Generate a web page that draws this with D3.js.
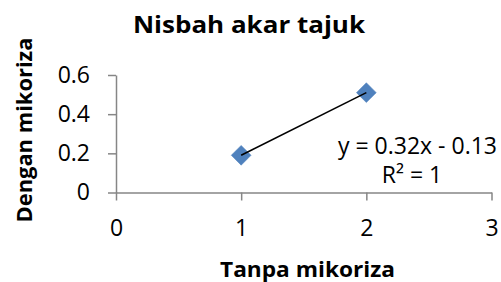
<!DOCTYPE html>
<html><head><meta charset="utf-8">
<script src="https://cdn.jsdelivr.net/npm/d3@7"></script>
<style>html,body{margin:0;padding:0;background:#fff;}svg{display:block;}</style>
</head><body>
<svg id="c" width="501" height="282"></svg>
<script>
const xValues = [1, 2];
const yValues = [0.19, 0.51];
const xTicks = [0, 1, 2, 3];
const yTicks = [0, 0.2, 0.4, 0.6];
const trendSlope = 0.32;
const trendIntercept = -0.13;
const titleText = "Nisbah akar tajuk";
const xTitle = "Tanpa mikoriza";
const yTitle = "Dengan mikoriza";
const eqText = "y = 0.32x - 0.13";
const r2Text = "R² = 1";

const font = "'Open Sans', 'Liberation Sans', sans-serif";
const svg = d3.select("#c");
const x = d3.scaleLinear().domain([0, 3]).range([116, 491.5]);
const y = d3.scaleLinear().domain([0, 0.6]).range([192.5, 75]);
const axisColor = "#868686";

const gx = svg.append("g").attr("transform", `translate(0,${y(0)})`)
  .call(d3.axisBottom(x).tickValues(xTicks).tickFormat(d3.format("d")).tickSize(8).tickSizeOuter(0).tickPadding(19));
const gy = svg.append("g").attr("transform", `translate(${x(0)},0)`)
  .call(d3.axisLeft(y).tickValues(yTicks).tickFormat(d => d === 0 ? "0" : d3.format(".1f")(d)).tickSize(8).tickSizeOuter(0).tickPadding(18));
[gx, gy].forEach(g => {
  g.select(".domain").attr("stroke", axisColor).attr("stroke-width", 1.5);
  g.selectAll(".tick line").attr("stroke", axisColor).attr("stroke-width", 1.5);
  g.selectAll(".tick text").attr("fill", "#000").style("font-family", font).style("font-size", "23px");
});

// markers
const sym = d3.symbol().type(d3.symbolDiamond2).size(250);
svg.selectAll("path.pt").data(xValues).enter().append("path")
  .attr("class", "pt")
  .attr("d", sym)
  .attr("transform", (d, i) => `translate(${x(d)},${y(yValues[i])})`)
  .attr("fill", "#4F81BD").attr("stroke", "#4A7EBB").attr("stroke-width", 0.5);

// trendline
svg.append("line")
  .attr("x1", x(xValues[0])).attr("y1", y(trendSlope * xValues[0] + trendIntercept))
  .attr("x2", x(xValues[1])).attr("y2", y(trendSlope * xValues[1] + trendIntercept))
  .attr("stroke", "#000").attr("stroke-width", 1.5);

svg.append("text").attr("x", 249).attr("y", 33).attr("text-anchor", "middle")
  .attr("textLength", 232).attr("lengthAdjust", "spacingAndGlyphs")
  .style("font-family", font).style("font-weight", "bold").style("font-size", "24px").text(titleText);
svg.append("text").attr("x", 307.5).attr("y", 276.5).attr("text-anchor", "middle")
  .attr("textLength", 175).attr("lengthAdjust", "spacingAndGlyphs")
  .style("font-family", font).style("font-weight", "bold").style("font-size", "21px").text(xTitle);
svg.append("text").attr("transform", "translate(32,130) rotate(-90)").attr("text-anchor", "middle")
  .attr("textLength", 185).attr("lengthAdjust", "spacingAndGlyphs")
  .style("font-family", font).style("font-weight", "bold").style("font-size", "21px").text(yTitle);
svg.append("text").attr("x", 497).attr("y", 154).attr("text-anchor", "end")
  .style("font-family", font).style("font-size", "23px").text(eqText);
svg.append("text").attr("x", 412).attr("y", 183).attr("text-anchor", "middle")
  .style("font-family", font).style("font-size", "23px").text(r2Text);
</script>
</body></html>
